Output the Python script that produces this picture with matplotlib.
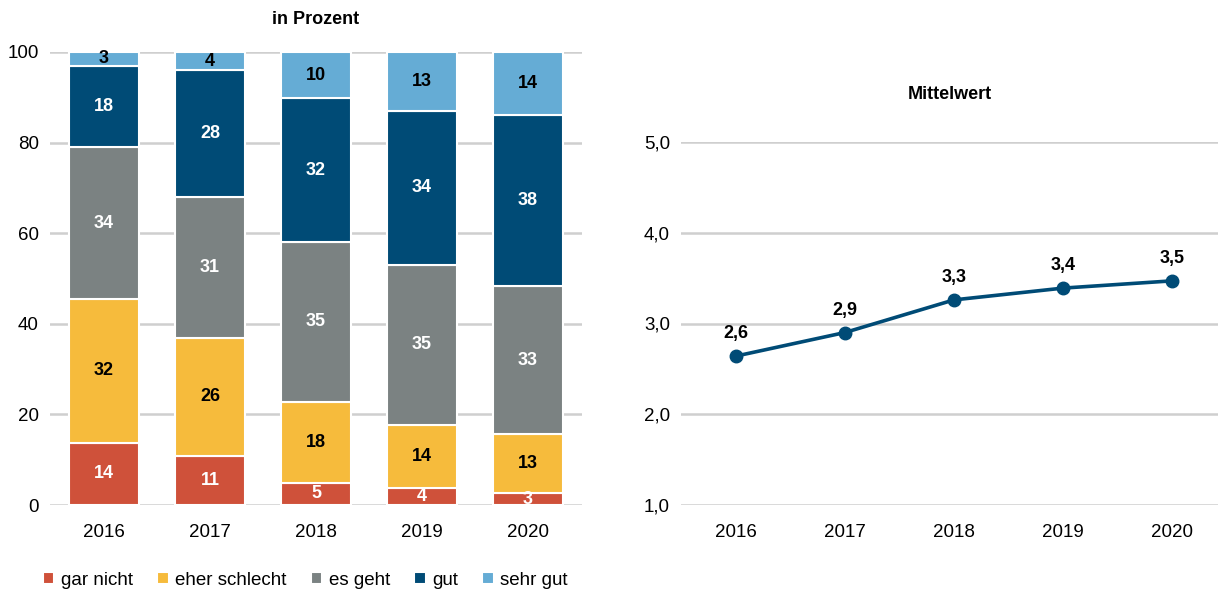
import matplotlib.pyplot as plt
import numpy as np

plt.rcParams['font.family'] = ['Liberation Sans', 'DejaVu Sans']

years = ['2016', '2017', '2018', '2019', '2020']
categories = ['gar nicht', 'eher schlecht', 'es geht', 'gut', 'sehr gut']

# shares in percent
gar_nicht = [13.7, 10.8, 4.9, 3.8, 2.6]
eher_schlecht = [31.8, 26.1, 17.8, 13.9, 13.1]
es_geht = [33.5, 31.1, 35.4, 35.3, 32.6]
gut = [18.0, 28.0, 31.7, 34.0, 37.8]
sehr_gut = [3.0, 4.0, 10.2, 13.0, 13.9]

mittelwert = [2.64, 2.90, 3.26, 3.39, 3.47]

colors = ['#cf513a', '#f6bb3c', '#7b8282', '#004b76', '#65acd5']
text_colors = ['white', 'black', 'white', 'white', 'black']

fig = plt.figure(figsize=(12.18, 5.92), dpi=100)
ax1 = fig.add_axes([50 / 1218, 1 - 505 / 592, 532 / 1218, 453 / 592])
ax2 = fig.add_axes([681 / 1218, 1 - 505 / 592, 537 / 1218, 363 / 592])

x = np.arange(len(years))
bottom = np.zeros(len(years))
series = [gar_nicht, eher_schlecht, es_geht, gut, sehr_gut]
for vals, name, col, tcol in zip(series, categories, colors, text_colors):
    vals = np.array(vals)
    ax1.bar(x, vals, 0.66, bottom=bottom, color=col, edgecolor='white',
            linewidth=1.5, label=name, zorder=3)
    for xi, b, v in zip(x, bottom, vals):
        ax1.text(xi, b + v / 2, f'{round(v):d}', ha='center', va='center',
                 color=tcol, fontsize=13, fontweight='bold', zorder=4)
    bottom += vals

ax1.set_xlim(-0.51, 4.51)
ax1.set_ylim(0, 100)
ax1.set_yticks([0, 20, 40, 60, 80, 100])
ax1.set_xticks(x)
ax1.set_xticklabels(years)
ax1.grid(axis='y', color='#cfcfcf', linewidth=1.8, zorder=0)
ax1.set_axisbelow(True)
ax1.set_title('in Prozent', fontsize=13, fontweight='bold', pad=20)
ax1.legend(loc='upper center', bbox_to_anchor=(0.48, -0.11), ncol=5,
           frameon=False, fontsize=13.5, handlelength=0.6, handleheight=0.6,
           handletextpad=0.35, columnspacing=1.3)

ax2.plot(x, mittelwert, color='#004b76', linewidth=2.6, marker='o',
         markersize=9, zorder=3)
for xi, v in zip(x, mittelwert):
    ax2.annotate(f'{v:.1f}'.replace('.', ','), (xi, v), xytext=(0, 16),
                 textcoords='offset points', ha='center', va='center',
                 fontsize=13, fontweight='bold')
ax2.set_xlim(-0.5, 4.42)
ax2.set_ylim(1, 5)
ax2.set_yticks([1, 2, 3, 4, 5])
ax2.set_yticklabels(['1,0', '2,0', '3,0', '4,0', '5,0'])
ax2.set_xticks(x)
ax2.set_xticklabels(years)
ax2.grid(axis='y', color='#cfcfcf', linewidth=1.8, zorder=0)
ax2.set_axisbelow(True)
ax2.set_title('Mittelwert', fontsize=13, fontweight='bold', pad=31)

for ax in (ax1, ax2):
    for s in ax.spines.values():
        s.set_visible(False)
    ax.tick_params(length=0, labelsize=13.5)
    ax.tick_params(axis='x', pad=14)
    ax.tick_params(axis='y', pad=8)

fig.savefig('out.png', dpi=100)
